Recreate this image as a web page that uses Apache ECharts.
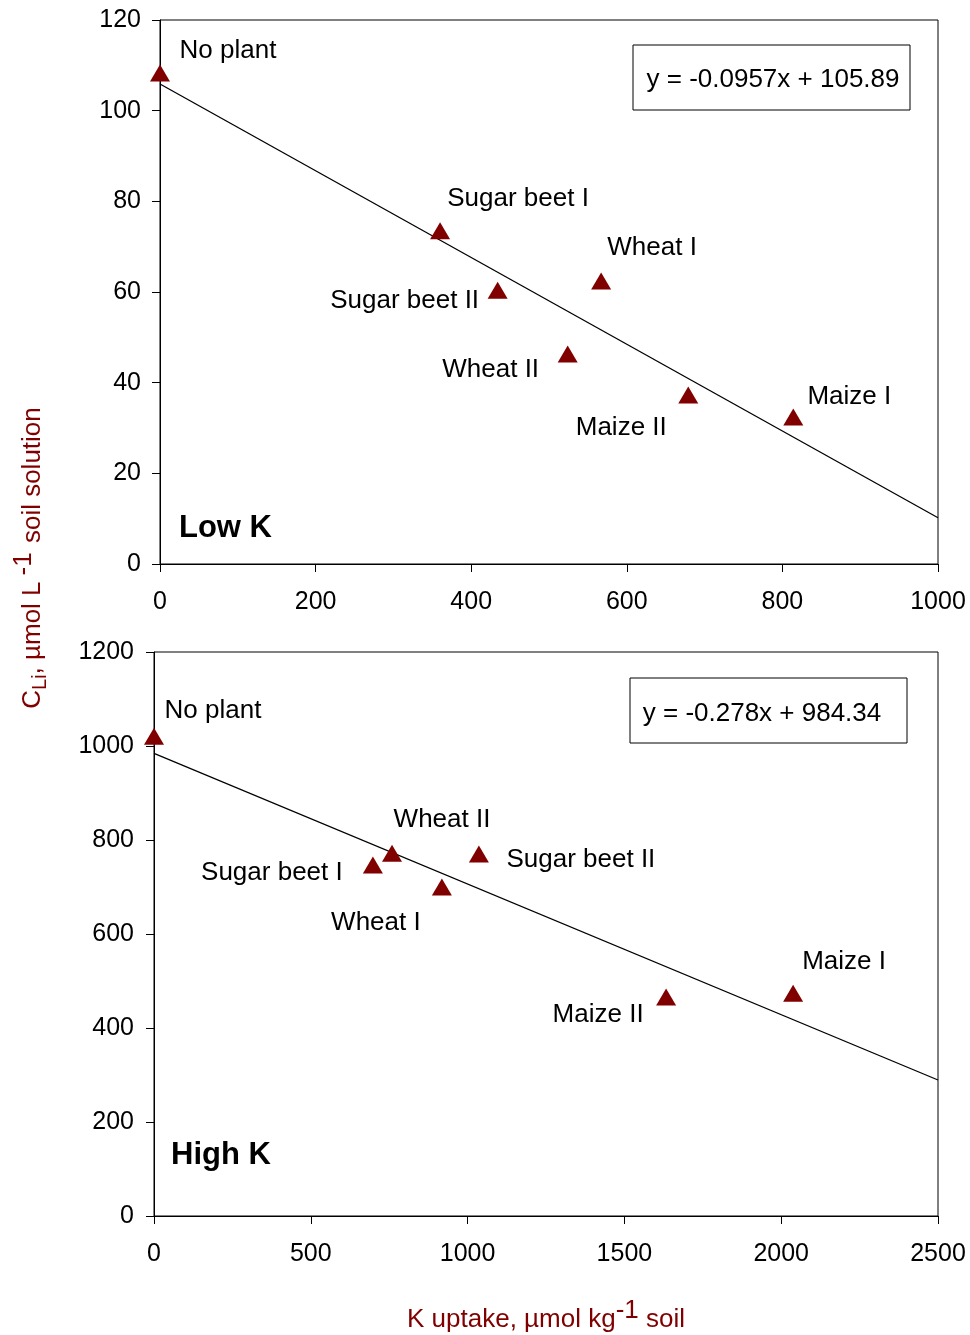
<!DOCTYPE html>
<html><head><meta charset="utf-8">
<script src="https://cdn.jsdelivr.net/npm/echarts@6/dist/echarts.min.js"></script>
<style>html,body{margin:0;padding:0;background:#fff}#c{width:970px;height:1335px}</style>
</head><body><div id="c"></div>
<script>
// ---- data ----
const namesLow = ['No plant','Sugar beet I','Wheat I','Sugar beet II','Wheat II','Maize II','Maize I'];
const xLow = [0, 360, 567, 434, 524, 679, 814];
const yLow = [108.3, 73.5, 62.4, 60.4, 46.3, 37.3, 32.4];
const fitLow = [[0, 105.89], [1000, 10.19]];
const eqLow = 'y = -0.0957x + 105.89';

const namesHigh = ['No plant','Sugar beet I','Wheat II','Wheat I','Sugar beet II','Maize II','Maize I'];
const xHigh = [0, 698, 759, 918, 1036, 1633, 2038];
const yHigh = [1021, 747, 772, 700, 770, 466, 474];
const fitHigh = [[0, 984.34], [2500, 289.34]];
const eqHigh = 'y = -0.278x + 984.34';

const xTicksLow = [0, 200, 400, 600, 800, 1000];
const yTicksLow = [0, 20, 40, 60, 80, 100, 120];
const xTicksHigh = [0, 500, 1000, 1500, 2000, 2500];
const yTicksHigh = [0, 200, 400, 600, 800, 1000, 1200];

// label offsets (style)
const offLow = [[68,-22],[78,-32],[51,-33],[-93,11],[-77,16],[-67,33],[56,-20]];
const offHigh = [[59,-25],[-101,8],[50,-33],[-66,36],[102,6],[-68,18],[51,-31]];

const FONT = '"Liberation Sans", Arial, sans-serif';
const RED = '#800000';
const FS = 26;

function pts(names, xs, ys, offs){
  return names.map((n,i)=>({
    value:[xs[i], ys[i]],
    label:{show:true, formatter:n, position:'inside', offset:offs[i], color:'#000', fontSize:FS, fontFamily:FONT, textBorderWidth:0, textShadowBlur:0}
  }));
}
function axis(gi, ticks, margin){
  return {type:'value', gridIndex:gi, min:ticks[0], max:ticks[ticks.length-1], interval:ticks[1]-ticks[0],
    axisLine:{show:true, onZero:false, lineStyle:{color:'#000', width:1}},
    axisTick:{show:true, inside:false, length:8, lineStyle:{color:'#000'}},
    axisLabel:{color:'#000', fontSize:25, fontFamily:FONT, margin:margin, formatter:v=>String(v)},
    splitLine:{show:false}};
}

const chart = echarts.init(document.getElementById('c'), null, {renderer:'canvas'});
chart.setOption({
  animation:false,
  backgroundColor:'#fff',
  grid:[
    {left:160, top:20, width:778, height:544, show:true, borderColor:'#000', borderWidth:1, backgroundColor:'transparent'},
    {left:154, top:652, width:784, height:564, show:true, borderColor:'#000', borderWidth:1, backgroundColor:'transparent'}
  ],
  xAxis:[axis(0,xTicksLow,26), axis(1,xTicksHigh,26)],
  yAxis:[axis(0,yTicksLow,19), axis(1,yTicksHigh,20)],
  series:[
    {type:'line', xAxisIndex:0, yAxisIndex:0, data:fitLow, symbol:'none', lineStyle:{color:'#000', width:1.3}, z:2},
    {type:'scatter', xAxisIndex:0, yAxisIndex:0, data:pts(namesLow,xLow,yLow,offLow), symbol:'triangle', symbolSize:[20,17], itemStyle:{color:RED, opacity:1}, z:3},
    {type:'line', xAxisIndex:1, yAxisIndex:1, data:fitHigh, symbol:'none', lineStyle:{color:'#000', width:1.3}, z:2},
    {type:'scatter', xAxisIndex:1, yAxisIndex:1, data:pts(namesHigh,xHigh,yHigh,offHigh), symbol:'triangle', symbolSize:[20,17], itemStyle:{color:RED, opacity:1}, z:3}
  ],
  graphic:[
    {type:'rect', shape:{x:633, y:45, width:277, height:65}, style:{fill:'#fff', stroke:'#000', lineWidth:1}, z:10},
    {type:'text', x:773, y:80, style:{text:eqLow, fill:'#000', font:FS+'px '+FONT, textAlign:'center', textVerticalAlign:'middle'}, z:11},
    {type:'rect', shape:{x:630, y:678, width:277, height:65}, style:{fill:'#fff', stroke:'#000', lineWidth:1}, z:10},
    {type:'text', x:762, y:714, style:{text:eqHigh, fill:'#000', font:FS+'px '+FONT, textAlign:'center', textVerticalAlign:'middle'}, z:11},
    {type:'text', x:179, y:528, style:{text:'Low K', fill:'#000', font:'bold 31px '+FONT, textAlign:'left', textVerticalAlign:'middle'}, z:11},
    {type:'text', x:171, y:1155, style:{text:'High K', fill:'#000', font:'bold 31px '+FONT, textAlign:'left', textVerticalAlign:'middle'}, z:11},
    {type:'text', x:546, y:1320, style:{
      text:'{a|K uptake, µmol kg}{s|-1}{a| soil}',
      textAlign:'center', textVerticalAlign:'middle',
      rich:{a:{fontSize:FS, fontFamily:FONT, fill:RED, color:RED, lineHeight:34},
            s:{fontSize:FS, fontFamily:FONT, fill:RED, color:RED, lineHeight:34, padding:[0,0,18,0]}}
    }, z:11},
    {type:'text', x:33, y:558, rotation:Math.PI/2, style:{
      text:'{a|C}{b|Li}{a|, µmol L}{s|-1}{a| soil solution}',
      textAlign:'center', textVerticalAlign:'middle',
      rich:{a:{fontSize:FS, fontFamily:FONT, fill:RED, color:RED, lineHeight:34},
            b:{fontSize:20, fontFamily:FONT, fill:RED, color:RED, lineHeight:34, padding:[14,0,0,0]},
            s:{fontSize:FS, fontFamily:FONT, fill:RED, color:RED, lineHeight:34, padding:[0,2,18,6]}}
    }, z:11}
  ]
});
</script></body></html>
